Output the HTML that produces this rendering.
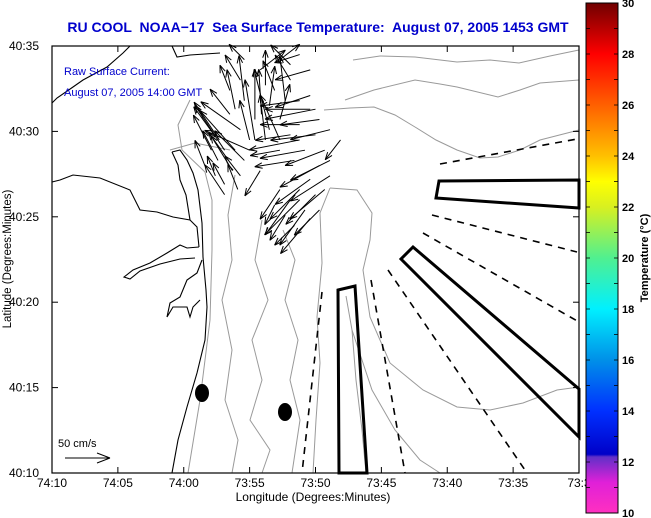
<!DOCTYPE html>
<html><head><meta charset="utf-8"><style>
body{margin:0;background:#fff}
svg{display:block;font-family:"Liberation Sans",sans-serif}
</style></head><body>
<svg id="chart" width="651" height="518" viewBox="0 0 651 518">
<defs>
<linearGradient id="cb" x1="0" y1="1" x2="0" y2="0">
<stop offset="0" stop-color="#ff30c0"/>
<stop offset="0.06" stop-color="#e020d8"/>
<stop offset="0.11" stop-color="#6030c8"/>
<stop offset="0.115" stop-color="#0000c8"/>
<stop offset="0.2" stop-color="#0030ff"/>
<stop offset="0.3" stop-color="#0090e8"/>
<stop offset="0.4" stop-color="#00f0ff"/>
<stop offset="0.5" stop-color="#50f090"/>
<stop offset="0.6" stop-color="#d8f020"/>
<stop offset="0.65" stop-color="#ffff00"/>
<stop offset="0.7" stop-color="#ffc000"/>
<stop offset="0.8" stop-color="#ff6000"/>
<stop offset="0.9" stop-color="#ff0000"/>
<stop offset="1" stop-color="#700000"/>
</linearGradient>
</defs>
<rect x="0" y="0" width="651" height="518" fill="#fff"/>
<text x="318" y="32" text-anchor="middle" font-size="14" font-weight="bold" fill="#0000cc" style="white-space:pre" xml:space="preserve">RU COOL  NOAA−17  Sea Surface Temperature:  August 07, 2005 1453 GMT</text>

<g fill="none" stroke="#9a9a9a" stroke-width="1">
<path d="M353,60 L380,56 L415,57 L457,62 L490,60 L519,63 L550,56 L579,50"/>
<path d="M345,100 L374,90 L415,80 L440,84 L457,87 L498,97 L520,90 L540,83 L579,80"/>
<path d="M324,110 L350,108 L374,107 L395,115 L415,127 L436,140 L457,150 L480,158 L498,157 L520,150 L540,140 L579,130"/>
<path d="M330,188 L357,190 L372,213 L370,240 L363,270 L370,317 L390,363 L423,390 L457,407 L490,410 L523,403 L557,390 L579,387"/>
<path d="M330,188 L320,213 L322,263 L317,317 L320,363 L316,420 L313,473"/>
<path d="M346,296 L352,330 L356,380 L362,430 L366,473"/>
<path d="M352,330 L372,390 L395,430 L420,460 L440,473"/>
<path d="M190,100 L178,125 L182,150 L205,172 L212,200 L212,250 L210,320 L200,400 L188,473"/>
<path d="M235,175 L228,215 L232,260 L222,300 L232,350 L225,400 L238,440 L232,473"/>
<path d="M262,220 L255,260 L268,300 L252,340 L262,380 L250,420 L270,450 L262,473"/>
<path d="M283,230 L295,260 L285,300 L298,340 L290,380 L300,420 L292,473"/>
<path d="M170,150 L195,143 L230,150"/>
</g>

<g fill="none" stroke="#000" stroke-width="1.1">
<path d="M52,103 L57,98 L73,87 L83,80 L107,67 L123,53 L130,46"/>
<path d="M172,46 L177,57 L190,55 L220,53"/>
<path d="M52,182 L60,180 L73,175 L100,178 L130,190 L140,210 L157,212 L173,217 L190,220 L197,227 L199,247"/>
<path d="M172,152 L180,150 L187,160 L193,173 L198,190 L202,223 L203,257 L206,290 L207,307 L205,340 L197,373 L187,407 L178,440 L172,473"/>
<path d="M172,152 L178,165 L180,180 L186,195 L190,220"/>
<path d="M199,247 L187,248 L180,245 L167,253 L150,263 L133,270 L124,277 L130,279 L140,271 L160,264 L180,259 L195,258"/>
<path d="M202,260 L197,273 L187,280 L180,297 L170,303 L167,317 L173,307 L187,307 L190,317 L193,307 L200,300"/>
</g>

<g fill="none" stroke="#000">
<polygon points="439,181 579,180 579,208 436,198" stroke-width="3"/>
<polygon points="413,247 579,389 579,437 401,259" stroke-width="3"/>
<polygon points="338,290 355,286 367,473 339,473" stroke-width="3"/>
<g stroke-width="1.6" stroke-dasharray="7,6">
<line x1="440" y1="164" x2="577" y2="139"/>
<line x1="432" y1="215" x2="577" y2="252"/>
<line x1="423" y1="233" x2="579" y2="322"/>
<line x1="388" y1="270" x2="527" y2="473"/>
<line x1="371" y1="280" x2="405" y2="473"/>
<line x1="322" y1="292" x2="302" y2="473"/>
</g>
</g>
<ellipse cx="202" cy="393" rx="7" ry="9" fill="#000"/>
<ellipse cx="285" cy="412" rx="7" ry="9" fill="#000"/>

<g id="arrows" stroke="#000" stroke-width="1" fill="none"></g>

<text x="64" y="75" font-size="11" fill="#0000cc">Raw Surface Current:</text>
<text x="64" y="82" dy="14" font-size="11" fill="#0000cc">August 07, 2005 14:00 GMT</text>
<text x="58" y="447" font-size="11" fill="#000">50 cm/s</text>
<g stroke="#000">
<line x1="65" y1="458" x2="110" y2="458"/><line x1="110" y1="458" x2="97" y2="453"/><line x1="110" y1="458" x2="97" y2="463"/>
</g>

<rect x="52" y="46" width="527" height="427" fill="none" stroke="#000" stroke-width="1.2"/>
<g id="axes" font-size="12" fill="#000"></g>
<text x="313" y="501" text-anchor="middle" font-size="12">Longitude (Degrees:Minutes)</text>
<text transform="translate(11,259) rotate(-90)" text-anchor="middle" font-size="11.5">Latitude (Degrees:Minutes)</text>

<rect x="586" y="3" width="32" height="510" fill="url(#cb)" stroke="#000" stroke-width="1"/>
<g id="cbticks" font-size="11" font-weight="bold"></g>
<text transform="translate(648,258) rotate(-90)" text-anchor="middle" font-size="11" font-weight="bold">Temperature (°C)</text>
</svg>
<script>
// arrow data: minutes east of 74:10, minutes north of 40:10, u (cm/s east), v (cm/s north)
const arrowLon=[12.4,12.7,12.1,13.1,12.6,13.4,11.6,13.7,12.4,13.1,14.3,14.1,
13.9,14.6,15.4,15.9,16.5,15.0,16.2,17.3,14.3,13.5,16.9,18.1,
18.8,19.6,20.3,18.8,18.1,20.0,21.1,19.2,18.4,20.7,17.3,19.6,
20.3,21.1,19.6,18.8,20.0,18.1,19.2,17.7,18.4,20.3,16.9,21.9,
15.8,17.3,18.8,14.6,19.6,
14.3,13.9,14.6,15.0,15.4,16.5,17.3,17.7,18.8,20.0,21.1,19.6,20.7,18.8,17.3,15.8,13.1,13.5,16.2,18.1];
const arrowLat=[19.7,19.5,18.9,18.9,18.3,18.3,18.0,17.7,17.4,16.9,17.4,16.6,
21.3,21.8,20.7,21.0,21.5,19.5,19.5,20.7,23.0,22.4,22.4,23.0,
21.8,21.3,20.7,20.4,19.8,19.8,20.1,18.9,18.3,18.9,18.9,22.1,
18.0,17.4,17.2,16.6,16.3,16.0,15.4,15.1,14.5,15.4,15.7,19.5,
23.6,24.2,24.5,24.2,23.6,
20.1,18.9,18.3,18.9,19.5,20.1,19.5,21.8,19.5,21.3,18.3,14.9,16.6,16.0,16.6,17.7,16.3,21.0,22.7,23.9];
const arrowU=[-24,-28,-20,-33,-17,-22,-11,-24,-9,-13,-17,-11,
-9,-6,0,-3,6,-11,-6,11,-17,-11,-13,-17,
-44,-50,-44,-44,-39,-50,-44,-50,-44,-44,-33,-39,
-44,-44,-39,-33,-33,-28,-28,-17,-22,-28,-11,-17,
28,22,-28,-17,-39,
-44,-39,-33,-50,-11,-17,-22,-6,-56,-56,-44,-33,-39,-39,-22,-17,-22,-22,0,-22];
const arrowV=[33,42,39,50,33,31,28,39,22,24,22,28,
44,50,56,50,44,44,50,39,28,28,33,28,
-6,0,-6,0,-6,-6,-11,-9,-7,-17,-6,-13,
-24,-28,-28,-33,-33,-39,-39,-28,-22,-28,-22,-22,
22,17,-9,17,-11,
31,44,33,22,67,67,50,50,-11,-11,-22,-39,-33,-39,-33,-28,33,28,39,22];
const xTicks=[0,5,10,15,20,25,30,35,40];
const xTickLabels=["74:10","74:05","74:00","73:55","73:50","73:45","73:40","73:35","73:3"];
const yTicks=[0,5,10,15,20,25];
const yTickLabels=["40:10","40:15","40:20","40:25","40:30","40:35"];
const cbTicks=[10,12,14,16,18,20,22,24,26,28,30];

const NS='http://www.w3.org/2000/svg';
function xs(m){return 52+m*527/40;}
function ys(n){return 473-n*427/25;}
function vs(c){return c*0.9;}
function cbY(t){return 513-(t-10)*510/20;}
function mk(tag,attrs,parent){const e=document.createElementNS(NS,tag);for(const k in attrs)e.setAttribute(k,attrs[k]);parent.appendChild(e);return e;}

const ag=document.getElementById('arrows');
for(let i=0;i<arrowLon.length;i++){
  const x0=xs(arrowLon[i]),y0=ys(arrowLat[i]);
  const x1=x0+vs(arrowU[i]),y1=y0-vs(arrowV[i]);
  const g=mk('g',{},ag);
  
  
  mk('line',{x1:x0,y1:y0,x2:x1,y2:y1},g);
  const a=Math.atan2(y1-y0,x1-x0),h=8;
  for(const s of [-0.35,0.35]){
    mk('line',{x1:x1,y1:y1,x2:x1-h*Math.cos(a+s),y2:y1-h*Math.sin(a+s)},g);
  }
}
const ax=document.getElementById('axes');
xTicks.forEach((t,i)=>{
  const x=xs(t);
  const l1=mk('line',{x1:x,y1:473,x2:x,y2:467,stroke:'#000'},ax);
  
  
  mk('line',{x1:x,y1:46,x2:x,y2:52,stroke:'#000'},ax);
  const tx=mk('text',{x:x,y:487,'text-anchor':'middle'},ax);
  
  
  tx.textContent=xTickLabels[i];
});
yTicks.forEach((t,i)=>{
  const y=ys(t);
  const l1=mk('line',{x1:52,y1:y,x2:58,y2:y,stroke:'#000'},ax);
  
  
  mk('line',{x1:579,y1:y,x2:573,y2:y,stroke:'#000'},ax);
  const tx=mk('text',{x:39,y:y+4,'text-anchor':'end'},ax);
  
  
  tx.textContent=yTickLabels[i];
});
const cb=document.getElementById('cbticks');
for(let t=10;t<=30;t++){
  const y=cbY(t);
  mk('line',{x1:586,y1:y,x2:590,y2:y,stroke:'#000','stroke-width':0.8},cb);
  mk('line',{x1:618,y1:y,x2:614,y2:y,stroke:'#000','stroke-width':0.8},cb);
}
cbTicks.forEach(t=>{
  const tx=mk('text',{x:622,y:cbY(t)+4},cb);
  
  
  tx.textContent=t;
});
</script>
</body></html>
